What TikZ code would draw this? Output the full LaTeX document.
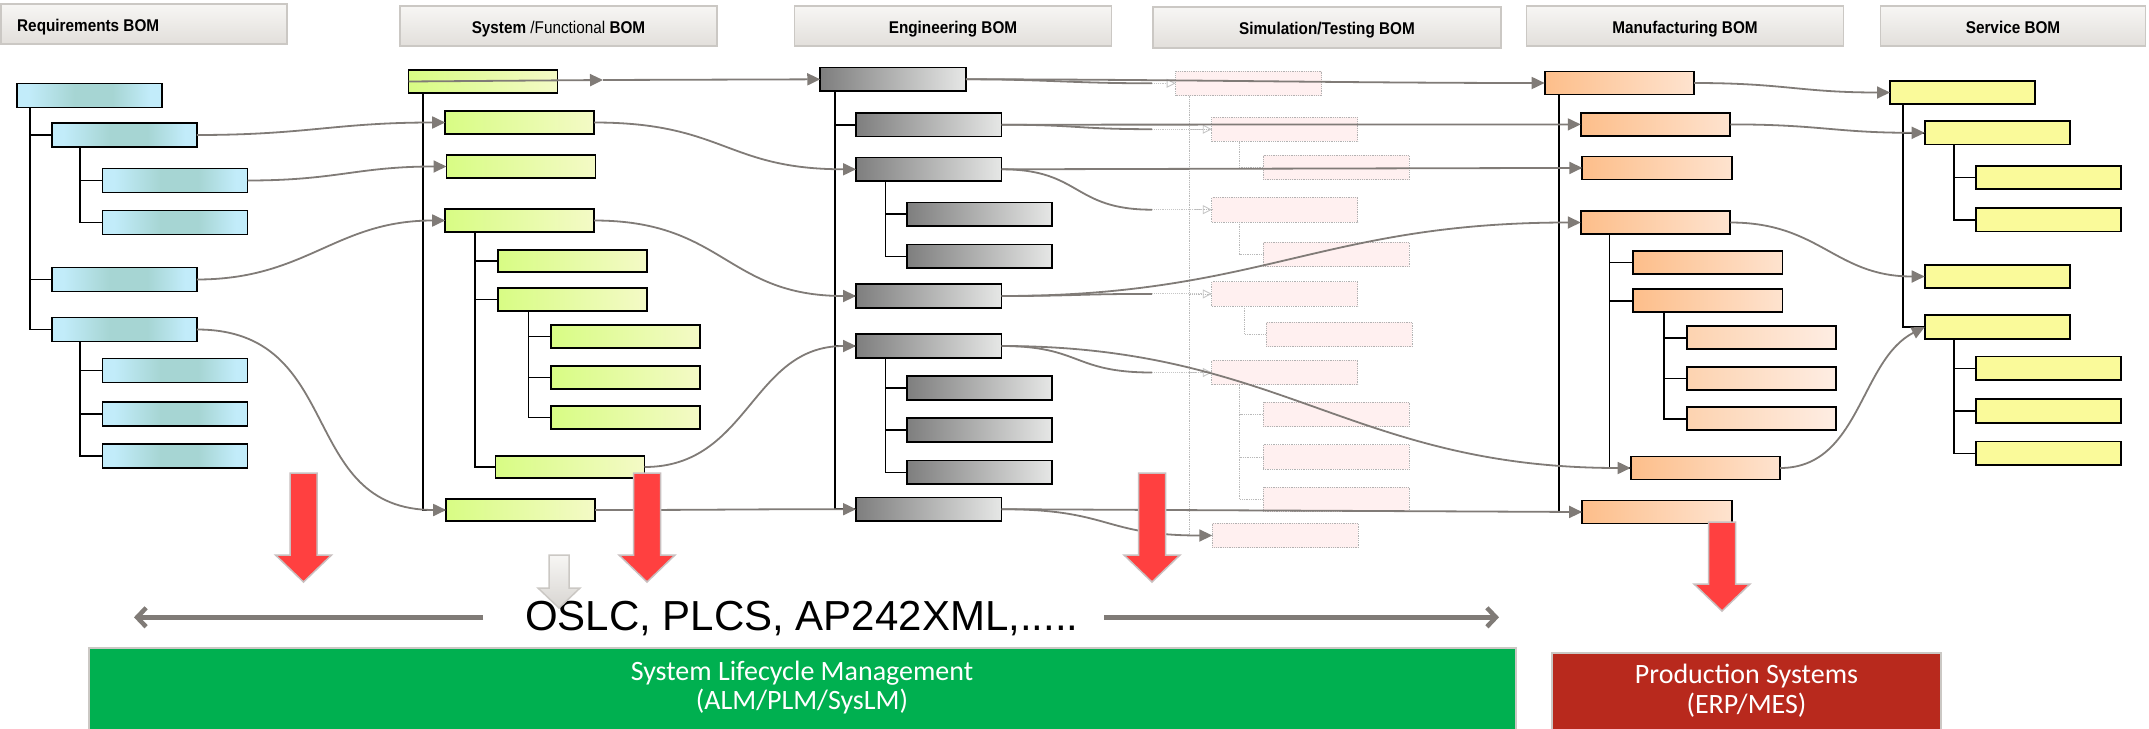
\documentclass[tikz,border=0pt]{standalone}
\usepackage{fontspec}
\setmainfont{Liberation Sans}
\newfontfamily\hdrfont[FakeStretch=0.9]{Liberation Sans}
\newfontfamily\calfont{Carlito}
\usetikzlibrary{arrows.meta}

\definecolor{lnk}{HTML}{807B77}
\definecolor{bL}{HTML}{C2ECFA}
\definecolor{bM}{HTML}{A6D5D3}
\definecolor{gL}{HTML}{D8FC84}
\definecolor{gR}{HTML}{F4FAC6}
\definecolor{eL}{HTML}{7E7E7E}
\definecolor{eR}{HTML}{E6E7E6}
\definecolor{oL}{HTML}{FDBE8A}
\definecolor{oR}{HTML}{FEE3CF}
\definecolor{pL}{HTML}{FDD3B0}
\definecolor{pR}{HTML}{FEEDE3}
\definecolor{yB}{HTML}{FAFA9A}
\definecolor{hT}{HTML}{F7F6F4}
\definecolor{hB}{HTML}{E2DFDB}
\definecolor{hE}{HTML}{CBC8C4}
\definecolor{aR}{HTML}{FF4040}
\definecolor{aE}{HTML}{C9BFBF}
\definecolor{slm}{HTML}{00B050}
\definecolor{prd}{HTML}{B8291D}

\pgfdeclarehorizontalshading{reqshade}{100bp}{color(0bp)=(bL); color(29bp)=(bL); color(45bp)=(bM); color(58bp)=(bM); color(71bp)=(bL); color(100bp)=(bL)}

% block arrow: style, centre x, top, neck, tip, half shaft, half head
\newcommand\bomarrow[7]{%
  \draw[#1] (#2-#6,#3) -- (#2+#6,#3) -- (#2+#6,#4) -- (#2+#7,#4) -- (#2,#5)
    -- (#2-#7,#4) -- (#2-#6,#4) -- cycle;}

\tikzset{
  bombox/.style={draw=black, line width=1.8pt, inner sep=0pt, outer sep=0pt},
  reqbox/.style={bombox, minimum width=145pt, minimum height=24pt, shading=reqshade},
  sysbox/.style={bombox, minimum width=149pt, minimum height=22.5pt, left color=gL, right color=gR},
  engbox/.style={bombox, minimum width=145.5pt, minimum height=23.5pt, left color=eL, right color=eR},
  simbox/.style={draw=gray!60, densely dotted, line width=0.8pt, fill=red!6, inner sep=0pt,
                 outer sep=0pt, minimum width=146pt, minimum height=24.5pt},
  mfgbox/.style={bombox, minimum width=149.5pt, minimum height=23pt, left color=oL, right color=oR},
  mfgpale/.style={mfgbox, left color=pL, right color=pR},
  svcbox/.style={bombox, minimum width=145pt, minimum height=23.5pt, fill=yB},
  tree/.style={draw=black, line width=1.6pt},
  simtree/.style={draw=gray!55, densely dotted, line width=0.8pt},
  conn/.style={draw=lnk, line width=1.8pt, -{Triangle[length=13pt,width=12pt]}},
  wire/.style={draw=lnk, line width=1.8pt},
  faint/.style={draw=gray!45, densely dotted, line width=0.9pt, -{Triangle[open,length=9pt,width=9pt]}},
  hdr/.style={draw=hE, line width=1.8pt, top color=hT, bottom color=hB, inner sep=0pt, outer sep=0pt},
  hdrtext/.style={font=\hdrfont\fontsize{17}{20}\selectfont\bfseries, inner sep=0pt, anchor=base},
  bigarrow/.style={draw=lnk, line width=4.5pt, -{Straight Barb[length=9pt,width=19pt]}},
  redarrow/.style={fill=aR, draw=aE, line width=1.5pt},
  greyarrow/.style={top color=hT, bottom color=hB!90!gray, draw=hE, line width=1.5pt},
  platform/.style={draw=hE, line width=2pt, inner sep=0pt, outer sep=0pt},
  ptext/.style={font=\calfont\fontsize{28}{30}\selectfont, text=white, inner sep=0pt, anchor=base},
}

\begin{document}
\begin{tikzpicture}[x=1pt, y=-1pt]
\fill[white] (0,0) rectangle (2149,728);
\useasboundingbox (0,0) rectangle (2149,728);

% ---------- column headers ----------
\node[hdr, minimum width=286pt, minimum height=40pt] (hReq) at (144,24) {};
\node[hdr, minimum width=317pt, minimum height=40pt] (hSys) at (558.5,26) {};
\node[hdr, minimum width=317pt, minimum height=40pt] (hEng) at (953,26) {};
\node[hdr, minimum width=348pt, minimum height=41pt] (hSim) at (1327,27.5) {};
\node[hdr, minimum width=317pt, minimum height=40pt] (hMfg) at (1685,26) {};
\node[hdr, minimum width=265pt, minimum height=40pt] (hSvc) at (2013,26) {};
\node[hdrtext, anchor=base west] (tReq) at (17,31.7) {Requirements BOM};
\node[hdrtext] (tSys) at (558.5,33.3) {System {\mdseries/Functional} BOM};
\node[hdrtext] (tEng) at (953,33.3) {Engineering BOM};
\node[hdrtext] (tSim) at (1327,34.3) {Simulation/Testing BOM};
\node[hdrtext] (tMfg) at (1685,33.3) {Manufacturing BOM};
\node[hdrtext] (tSvc) at (2013,33.3) {Service BOM};

% ---------- requirements BOM ----------
\node[reqbox] (R1) at (89.2,95.5) {};
\node[reqbox] (R2) at (124.3,135) {};
\node[reqbox] (R3) at (175,180.5) {};
\node[reqbox] (R4) at (175,222.5) {};
\node[reqbox] (R5) at (124.3,279.5) {};
\node[reqbox] (R6) at (124.3,329.5) {};
\node[reqbox] (R7) at (175,370.5) {};
\node[reqbox] (R8) at (175,414) {};
\node[reqbox] (R9) at (175,456) {};

% ---------- system / functional BOM ----------
\node[sysbox] (S1) at (483,81.5) {};
\node[sysbox] (S2) at (519.7,122.5) {};
\node[sysbox] (S3) at (521,166.5) {};
\node[sysbox] (S4) at (519.7,220.5) {};
\node[sysbox] (S5) at (572.3,261) {};
\node[sysbox] (S6) at (572.3,299.5) {};
\node[sysbox] (S7) at (625.5,336.5) {};
\node[sysbox] (S8) at (625.5,377.5) {};
\node[sysbox] (S9) at (625.5,417.5) {};
\node[sysbox] (S10) at (570,467) {};
\node[sysbox] (S11) at (520.7,510) {};

% ---------- engineering BOM ----------
\node[engbox] (E1) at (893,79.3) {};
\node[engbox] (E2) at (928.8,124.7) {};
\node[engbox] (E3) at (928.8,169.3) {};
\node[engbox] (E4) at (979.5,214.2) {};
\node[engbox] (E5) at (979.5,256.3) {};
\node[engbox] (E6) at (928.8,296) {};
\node[engbox] (E7) at (928.8,346) {};
\node[engbox] (E8) at (979.5,388) {};
\node[engbox] (E9) at (979.5,430) {};
\node[engbox] (E10) at (979.5,472.3) {};
\node[engbox] (E11) at (928.8,509.2) {};

% ---------- simulation / testing BOM ----------
\node[simbox] (T1) at (1248.6,83.3) {};
\node[simbox] (T2) at (1284.8,129.2) {};
\node[simbox] (T3) at (1335.9,167.5) {};
\node[simbox] (T4) at (1284.8,209.7) {};
\node[simbox] (T5) at (1335.9,254.5) {};
\node[simbox] (T6) at (1284.8,293.9) {};
\node[simbox] (T7) at (1339.3,334.5) {};
\node[simbox] (T8) at (1284.8,372.5) {};
\node[simbox] (T9) at (1335.9,414.3) {};
\node[simbox] (T10) at (1335.9,457) {};
\node[simbox] (T11) at (1335.9,499.3) {};
\node[simbox] (T12) at (1285.3,535.5) {};

% ---------- manufacturing BOM ----------
\node[mfgbox] (M1) at (1619.4,83) {};
\node[mfgbox] (M2) at (1655.5,124.4) {};
\node[mfgbox] (M3) at (1657.1,167.9) {};
\node[mfgbox] (M4) at (1655.5,222.5) {};
\node[mfgbox] (M5) at (1707.7,262.3) {};
\node[mfgbox] (M6) at (1707.7,300.7) {};
\node[mfgpale] (M7) at (1761.6,337.7) {};
\node[mfgpale] (M8) at (1761.6,378.3) {};
\node[mfgpale] (M9) at (1761.6,418.8) {};
\node[mfgbox] (M10) at (1705.4,468) {};
\node[mfgbox] (M11) at (1656.9,512) {};

% ---------- service BOM ----------
\node[svcbox] (V1) at (1962.5,92.5) {};
\node[svcbox] (V2) at (1997.2,132.8) {};
\node[svcbox] (V3) at (2048.7,177.5) {};
\node[svcbox] (V4) at (2048.7,219.7) {};
\node[svcbox] (V5) at (1997.2,276.5) {};
\node[svcbox] (V6) at (1997.2,327) {};
\node[svcbox] (V7) at (2048.7,368.3) {};
\node[svcbox] (V8) at (2048.7,411) {};
\node[svcbox] (V9) at (2048.7,453.3) {};

% ---------- tree lines ----------
\foreach \c in {R2,R5,R6} \draw[tree] (30,108) |- (\c.west);
\foreach \c in {R3,R4} \draw[tree] (80,147) |- (\c.west);
\foreach \c in {R7,R8,R9} \draw[tree] (80,342) |- (\c.west);
\foreach \c in {S2,S3,S4,S11} \draw[tree] (423,93) |- (\c.west);
\foreach \c in {S5,S6,S10} \draw[tree] (475,232) |- (\c.west);
\foreach \c in {S7,S8,S9} \draw[tree] (528.5,311) |- (\c.west);
\foreach \c in {E2,E3,E6,E7,E11} \draw[tree] (834.7,91) |- (\c.west);
\foreach \c in {E4,E5} \draw[tree] (885.4,181) |- (\c.west);
\foreach \c in {E8,E9,E10} \draw[tree] (885.4,358) |- (\c.west);
\foreach \c in {T2,T4,T6,T8,T12} \draw[simtree] (1189,95.5) |- (\c.west);
\draw[simtree] (1239.5,141.5) |- (T3.west);
\draw[simtree] (1239.5,222) |- (T5.west);
\draw[simtree] (1244.7,306) |- (T7.west);
\foreach \c in {T9,T10,T11} \draw[simtree] (1239.5,384.8) |- (\c.west);
\foreach \c in {M2,M3,M4,M11} \draw[tree] (1559.2,94.8) |- (\c.west);
\foreach \c in {M5,M6,M10} \draw[tree] (1609.6,234.3) |- (\c.west);
\foreach \c in {M7,M8,M9} \draw[tree] (1664,312.5) |- (\c.west);
\foreach \c in {V2,V5,V6} \draw[tree] (1903,104.5) |- (\c.west);
\foreach \c in {V3,V4} \draw[tree] (1954.2,144.8) |- (\c.west);
\foreach \c in {V7,V8,V9} \draw[tree] (1954.2,339) |- (\c.west);

% ---------- requirements -> system ----------
\draw[conn] (R2.east) .. controls +(110,0) and +(-110,0) .. (S2.west);
\draw[conn] (R3.east) .. controls +(90,0) and +(-90,0) .. (S3.west);
\draw[conn] (R5.east) .. controls +(110,0) and +(-110,0) .. (S4.west);
\draw[conn] (R6.east) .. controls +(150,0) and +(-150,0) .. (S11.west);

% ---------- system -> engineering ----------
\coordinate (s1tip) at (603,80);
\draw[conn] (S1.west) -- (s1tip);
\draw[conn] (s1tip) -- (E1.west);
\draw[conn] (S2.east) .. controls +(130,0) and +(-130,0) .. (E3.west);
\draw[conn] (S4.east) .. controls +(130,0) and +(-130,0) .. (E6.west);
\draw[conn] (S10.east) .. controls +(105,0) and +(-105,0) .. (E7.west);
\draw[conn] (S11.east) .. controls +(130,0) and +(-130,0) .. (E11.west);

% ---------- engineering -> simulation / manufacturing ----------
\coordinate (t1in) at (1152,83.3);
\coordinate (t2in) at (1152,129.2);
\coordinate (t4in) at (1152,209.7);
\coordinate (t6in) at (1152,293.9);
\coordinate (t8in) at (1152,372.5);
\draw[wire] (E1.east) .. controls +(80,0) and +(-80,0) .. (t1in);
\draw[faint] (t1in) -- (T1.west);
\draw[wire] (E2.east) .. controls +(75,0) and +(-75,0) .. (t2in);
\draw[faint] (t2in) -- (T2.west);
\draw[wire] (E3.east) .. controls +(80,0) and +(-80,0) .. (t4in);
\draw[faint] (t4in) -- (T4.west);
\draw[wire] (E6.east) .. controls +(75,0) and +(-75,0) .. (t6in);
\draw[faint] (t6in) -- (T6.west);
\draw[wire] (E7.east) .. controls +(80,0) and +(-80,0) .. (t8in);
\draw[faint] (t8in) -- (T8.west);
\draw[conn] (E11.east) .. controls +(110,0) and +(-110,0) .. (T12.west);

\draw[conn] (E1.east) .. controls +(200,0) and +(-200,0) .. (M1.west);
\draw[conn] (E2.east) -- (M2.west);
\draw[conn] (E3.east) -- (M3.west);
\draw[conn] (E6.east) .. controls +(260,0) and +(-260,0) .. (M4.west);
\draw[conn] (E7.east) .. controls +(280,0) and +(-280,0) .. (M10.west);
\draw[conn] (E11.east) -- (M11.west);

% ---------- manufacturing -> service ----------
\draw[conn] (M1.east) .. controls +(90,0) and +(-90,0) .. (V1.west);
\draw[conn] (M2.east) .. controls +(90,0) and +(-90,0) .. (V2.west);
\draw[conn] (M4.east) .. controls +(90,0) and +(-90,0) .. (V5.west);
\draw[conn] (M10.east) .. controls +(80,0) and +(-65,33) .. (V6.west);

% ---------- exchange standards ----------
\node[font=\fontsize{42}{46}\selectfont, inner sep=0pt, anchor=base west] (oslc) at (525,630)
  {OSLC, PLCS, AP242XML,.....};
\coordinate (stdL0) at (483,617.3);
\coordinate (stdL1) at (134,617.3);
\coordinate (stdR0) at (1104,617.3);
\coordinate (stdR1) at (1499,617.3);
\draw[bigarrow] (stdL0) -- (stdL1);
\draw[bigarrow] (stdR0) -- (stdR1);

% ---------- target platforms ----------
\node[platform, fill=slm, minimum width=1427.5pt, minimum height=82pt] (slmbox) at (802.25,689.3) {};
\node[ptext] (slm1) at (802,680) {System Lifecycle Management};
\node[ptext] (slm2) at (802,709) {(ALM/PLM/SysLM)};
\node[platform, fill=prd, minimum width=389.7pt, minimum height=82pt] (prdbox) at (1746.45,693.7) {};
\node[ptext] (prd1) at (1746.5,683.3) {Production Systems};
\node[ptext] (prd2) at (1746.5,713.3) {(ERP/MES)};

% ---------- hand-over arrows ----------
\bomarrow{redarrow}{303.5}{473}{555}{582}{13.5}{28}
\bomarrow{redarrow}{647}{473}{555}{582}{13.5}{28}
\bomarrow{greyarrow}{559}{555}{588}{608}{10}{21}
\bomarrow{redarrow}{1152}{473}{555}{582}{13.5}{28}
\bomarrow{redarrow}{1722}{522}{584}{611}{13.5}{28}
\end{tikzpicture}
\end{document}
